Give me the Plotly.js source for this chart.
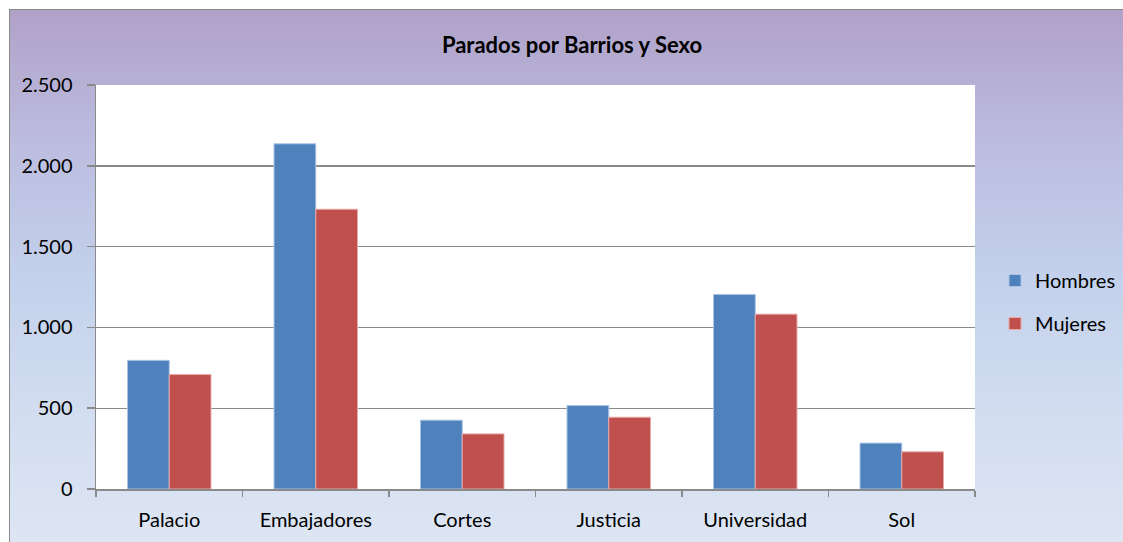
<!DOCTYPE html>
<html>
<head>
<meta charset="utf-8">
<script src="https://cdn.plot.ly/plotly-3.0.1.min.js"></script>
<style>
  html, body { margin: 0; padding: 0; background: #ffffff; }
  #wrap { position: absolute; left: 0; top: 0; width: 1123px; height: 542px; overflow: hidden; }
  #bg { position: absolute; left: 9px; top: 9px; width: 1120px; height: 540px;
        border-left: 1.5px solid #8a8a8a; border-top: 1.5px solid #8a8a8a;
        background: linear-gradient(to bottom, #b0a1c8 0%, #bcbddf 25%, #c3d1ec 50%, #d2ddf0 75%, #dee6f3 100%); }
  #chart { position: absolute; left: 0; top: 0; width: 1123px; height: 542px; }
</style>
</head>
<body>
<div id="wrap">
  <div id="bg"></div>
  <div id="chart"></div>
</div>
<script>
const categories = ["Palacio", "Embajadores", "Cortes", "Justicia", "Universidad", "Sol"];
const hombres = [796, 2136, 426, 516, 1204, 284];
const mujeres = [708, 1731, 341, 444, 1082, 230];
const seriesNames = ["Hombres", "Mujeres"];
const yTicks = [0, 500, 1000, 1500, 2000, 2500];

const fontFam = "Lato, 'Open Sans', 'DejaVu Sans', sans-serif";

const traces = [
  {
    type: "bar", name: seriesNames[0], x: categories, y: hombres,
    legendgroup: "h",
    marker: { color: "#4f81bd", line: { color: "#a9c3e3", width: 1 } },
    hoverinfo: "x+y"
  },
  {
    type: "bar", name: seriesNames[1], x: categories, y: mujeres,
    legendgroup: "m",
    marker: { color: "#c0504d", line: { color: "#e6a9a7", width: 1 } },
    hoverinfo: "x+y"
  }
];

const layout = {
  width: 1123, height: 542,
  paper_bgcolor: "rgba(0,0,0,0)",
  plot_bgcolor: "#ffffff",
  margin: { l: 96, r: 148, t: 85, b: 53, pad: 0, autoexpand: false },
  separators: ",.",
  font: { family: fontFam, size: 20, color: "#000000" },
  title: {
    text: "<b>Parados por Barrios y Sexo</b>",
    font: { family: fontFam, size: 22, color: "#000000" },
    x: 572 / 1123, xref: "container", xanchor: "center",
    y: 1 - 45 / 542, yref: "container", yanchor: "middle"
  },
  barmode: "group",
  bargap: 0.43,
  bargroupgap: 0,
  showlegend: true,
  legend: {
    xref: "container", yref: "container",
    x: 995 / 1123, xanchor: "left", y: 1 - 302 / 542, yanchor: "middle",
    bgcolor: "rgba(0,0,0,0)",
    font: { family: fontFam, size: 20, color: "#000000" },
    traceorder: "grouped",
    tracegroupgap: 14,
    itemwidth: 30
  },
  xaxis: {
    type: "category",
    showline: true, linecolor: "#8a8a8a", linewidth: 1.5,
    ticks: "outside", tickson: "boundaries", ticklen: 6, tickcolor: "#8a8a8a", tickwidth: 1.5,
    showgrid: false,
    tickfont: { family: fontFam, size: 20, color: "#000000" },
    ticklabelstandoff: 12,
    fixedrange: true
  },
  yaxis: {
    range: [0, 2500],
    tickvals: yTicks,
    tickformat: ",d",
    showline: true, linecolor: "#8a8a8a", linewidth: 1.5,
    ticks: "outside", ticklen: 8, tickcolor: "#8a8a8a", tickwidth: 1.5,
    showgrid: true, gridcolor: "#8a8a8a", gridwidth: 1.4,
    zeroline: false,
    tickfont: { family: fontFam, size: 20, color: "#000000" },
    ticklabelstandoff: 10,
    fixedrange: true
  }
};

Plotly.newPlot("chart", traces, layout, { displayModeBar: false, staticPlot: true });
</script>
</body>
</html>
